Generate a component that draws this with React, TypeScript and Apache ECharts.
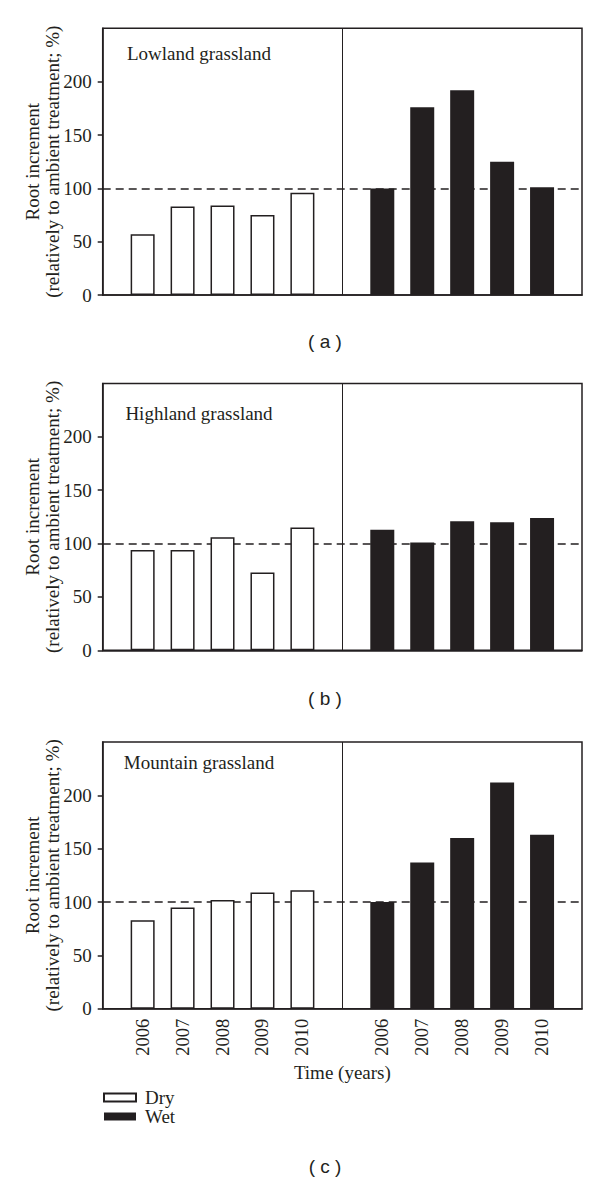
import React, { useEffect, useRef } from "react";
import * as echarts from "echarts";

const years = ["2006", "2007", "2008", "2009", "2010"];
const panelTitles = ["Lowland grassland", "Highland grassland", "Mountain grassland"];
const panelLetters = ["( a )", "( b )", "( c )"];
const dryValues = [
  [57, 83, 84, 75, 96],
  [94, 94, 106, 73, 115],
  [83, 95, 102, 109, 111],
];
const wetValues = [
  [100, 176, 192, 125, 101],
  [113, 101, 121, 120, 124],
  [100, 137, 160, 212, 163],
];
const yTicks = [0, 50, 100, 150, 200];
const refValue = 100;
const yAxisName = "Root increment\n(relatively to ambient treatment; %)";
const xAxisName = "Time (years)";

const INK = "#231f20";
const SERIF = '"Liberation Serif", "Times New Roman", serif';
const SANS = '"Liberation Sans", Arial, sans-serif';

// layout (pixels)
const gridTops = [28.3, 383.5, 742];
const gridH = 266.8;
const gridLeft = 102.7;
const gridRight = 18;
const titleY = [53.6, 413.6, 762];
const letterY = [341.7, 698.3, 1166.7];

export default function App() {
  const ref = useRef<HTMLDivElement>(null);
  useEffect(() => {
    if (!ref.current) return;
    const chart = echarts.init(ref.current, null, { renderer: "svg" });
    const cats = ["", ...years, "", ...years, ""];
    const grids: any[] = [];
    const xAxes: any[] = [];
    const yAxes: any[] = [];
    const series: any[] = [];
    const graphics: any[] = [];
    for (let p = 0; p < 3; p++) {
      grids.push({
        left: gridLeft,
        right: gridRight,
        top: gridTops[p],
        height: gridH,
        show: true,
        borderColor: INK,
        borderWidth: 1.5,
        containLabel: false,
      });
      xAxes.push({
        type: "category",
        gridIndex: p,
        data: cats,
        boundaryGap: false,
        axisTick: { show: false },
        axisLine: { lineStyle: { color: INK, width: 1.5 } },
        axisLabel: {
          show: p === 2,
          interval: 0,
          rotate: 90,
          margin: 10,
          fontFamily: SERIF,
          fontSize: 18.5,
          color: INK,
        },
        name: p === 2 ? xAxisName : "",
        nameLocation: "middle",
        nameGap: 54,
        nameMoveOverlap: false,
        nameTextStyle: { fontFamily: SERIF, fontSize: 19, color: INK },
      });
      yAxes.push({
        type: "value",
        gridIndex: p,
        min: 0,
        max: 250,
        interval: 50,
        splitLine: { show: false },
        axisLine: { show: true, lineStyle: { color: INK, width: 1.5 } },
        axisTick: {
          show: true,
          length: 5,
          customValues: yTicks,
          lineStyle: { color: INK, width: 1.5 },
        },
        axisLabel: {
          customValues: yTicks,
          margin: 11,
          fontFamily: SERIF,
          fontSize: 19,
          color: INK,
        },
        name: yAxisName,
        nameLocation: "middle",
        nameGap: 40,
        nameMoveOverlap: false,
        nameTextStyle: { fontFamily: SERIF, fontSize: 19, color: INK, lineHeight: 20 },
      });
      const pad7 = new Array(7).fill(null);
      series.push({
        type: "bar",
        name: "Dry",
        xAxisIndex: p,
        yAxisIndex: p,
        barWidth: 24,
        barGap: "-100%",
        z: 2,
        itemStyle: { color: "#ffffff", borderColor: INK, borderWidth: 1.5 },
        data: [null, ...dryValues[p], ...pad7],
        markLine: {
          silent: true,
          symbol: "none",
          z: 1,
          label: { show: false },
          data: [
            { yAxis: refValue, lineStyle: { type: [8, 5], width: 1.5, color: INK } },
            { xAxis: 6, lineStyle: { type: "solid", width: 1, color: INK } },
          ],
        },
      });
      series.push({
        type: "bar",
        name: "Wet",
        xAxisIndex: p,
        yAxisIndex: p,
        barWidth: 24,
        barGap: "-100%",
        z: 2,
        itemStyle: { color: INK },
        data: [...pad7, ...wetValues[p], null],
      });
      graphics.push({
        type: "text",
        x: 199,
        y: titleY[p],
        style: {
          text: panelTitles[p],
          font: `19px ${SERIF}`,
          fill: INK,
          textAlign: "center",
          textVerticalAlign: "middle",
        },
      });
      graphics.push({
        type: "text",
        x: 325,
        y: letterY[p],
        style: {
          text: panelLetters[p],
          font: `19px ${SANS}`,
          fill: INK,
          textAlign: "center",
          textVerticalAlign: "middle",
        },
      });
    }
    chart.setOption({
      animation: false,
      backgroundColor: "#ffffff",
      grid: grids,
      xAxis: xAxes,
      yAxis: yAxes,
      series,
      graphic: graphics,
      legend: {
        data: ["Dry", "Wet"],
        orient: "vertical",
        left: 103,
        top: 1088,
        padding: 0,
        itemWidth: 32,
        itemHeight: 8,
        itemGap: 0,
        icon: "rect",
        selectedMode: false,
        textStyle: { fontFamily: SERIF, fontSize: 19, color: INK, padding: [0, 0, 0, 4] },
      },
    });
    return () => chart.dispose();
  }, []);
  return (
    <div
      ref={ref}
      style={{ position: "absolute", left: 0, top: 0, width: 600, height: 1181 }}
    />
  );
}
